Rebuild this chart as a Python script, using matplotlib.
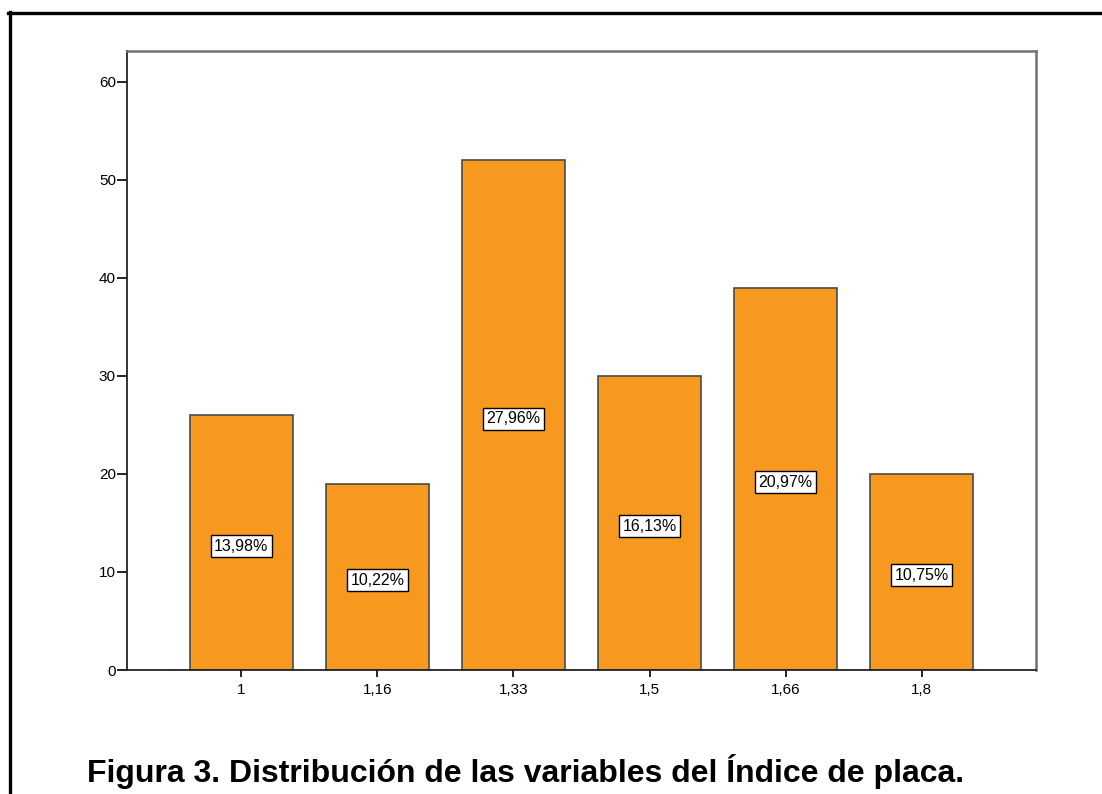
import matplotlib
matplotlib.use("Agg")
import matplotlib.pyplot as plt
from matplotlib.lines import Line2D

plt.rcParams['font.family'] = ['Liberation Sans', 'DejaVu Sans']

# Índice de placa: categorías y frecuencias
categories = ["1", "1,16", "1,33", "1,5", "1,66", "1,8"]
counts = [26, 19, 52, 30, 39, 20]
y_ticks = [0, 10, 20, 30, 40, 50, 60]
caption = "Figura 3. Distribución de las variables del Índice de placa."

total = sum(counts)
percent_labels = [f"{c / total * 100:.2f}".replace(".", ",") + "%" for c in counts]

W, H = 1102, 794
fig = plt.figure(figsize=(W / 100, H / 100), dpi=100)
ax = fig.add_axes([127 / W, 1 - 670 / H, (1036 - 127) / W, (670 - 51) / H])

x = list(range(len(categories)))
ax.bar(x, counts, width=0.757, color="#F7991E", edgecolor="#4a4a4a",
       linewidth=1.2, zorder=2)

for xi, c, lab in zip(x, counts, percent_labels):
    ax.annotate(lab, xy=(xi, c / 2), xytext=(0, -2.5), textcoords="offset points",
                ha="center", va="center", fontsize=11.5, color="black", zorder=3,
                bbox=dict(boxstyle="square,pad=0.22", facecolor="white",
                          edgecolor="black", linewidth=1.0))

ax.set_xlim(-0.84, len(categories) - 1 + 0.84)
ax.set_ylim(0, 63.16)
ax.set_xticks(x)
ax.set_xticklabels(categories, fontsize=11)
ax.set_yticks(y_ticks)
ax.set_yticklabels([str(t) for t in y_ticks], fontsize=11)
ax.tick_params(axis="y", direction="out", length=7, width=1.2, color="black", pad=1)
ax.tick_params(axis="x", direction="out", length=5, width=1.2, color="black", pad=4)

for side in ("left", "bottom"):
    ax.spines[side].set_color("#222222")
    ax.spines[side].set_linewidth(1.3)
for side in ("top", "right"):
    ax.spines[side].set_color("#707070")
    ax.spines[side].set_linewidth(1.8)

# Marco exterior de la figura
fig.add_artist(Line2D([9.5 / W, 9.5 / W], [0, 1 - 12 / H], transform=fig.transFigure,
                      color="black", linewidth=2.4))
fig.add_artist(Line2D([8.3 / W, 1], [1 - 12.5 / H, 1 - 12.5 / H], transform=fig.transFigure,
                      color="black", linewidth=2.4))

fig.text(87 / W, 1 - 782 / H, caption, fontsize=23, fontweight="bold",
         ha="left", va="baseline", color="black")

fig.savefig("out.png", dpi=100, facecolor="white")
